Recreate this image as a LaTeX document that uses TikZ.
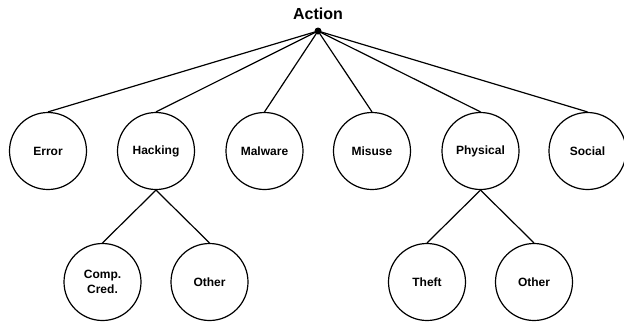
\documentclass[tikz,border=0pt]{standalone}
\usepackage{fontspec}
\setmainfont{Liberation Sans}
\begin{document}
\begin{tikzpicture}[x=1pt,y=-1pt,
  cat/.style={draw,circle,line width=1.2pt,minimum size=77pt,inner sep=0pt,
    font=\fontsize{12}{14.5}\selectfont\bfseries,align=center},
  edge/.style={line width=1.2pt}]
\useasboundingbox (0,0) rectangle (624,322);
\node[font=\fontsize{16}{18}\selectfont\bfseries] (title) at (318,14) {Action};
\node[circle,fill,inner sep=0pt,minimum size=7pt] (dot) at (318,31) {};
\node[cat] (err) at (48,151) {Error};
\node[cat] (hack) at (156,151) {Hacking};
\node[cat] (mal) at (264.5,151) {Malware};
\node[cat] (mis) at (372,151) {Misuse};
\node[cat] (phys) at (480.5,151) {Physical};
\node[cat] (soc) at (587.5,151) {Social};
\node[cat] (comp) at (102.5,282) {Comp.\\Cred.};
\node[cat] (oth1) at (209.5,282) {Other};
\node[cat] (theft) at (427,282) {Theft};
\node[cat] (oth2) at (534,282) {Other};
\foreach \n in {err,hack,mal,mis,phys,soc}
  \draw[edge] (dot.center) -- (\n.north);
\draw[edge] (hack.south) -- (comp.north);
\draw[edge] (hack.south) -- (oth1.north);
\draw[edge] (phys.south) -- (theft.north);
\draw[edge] (phys.south) -- (oth2.north);
\end{tikzpicture}
\end{document}
